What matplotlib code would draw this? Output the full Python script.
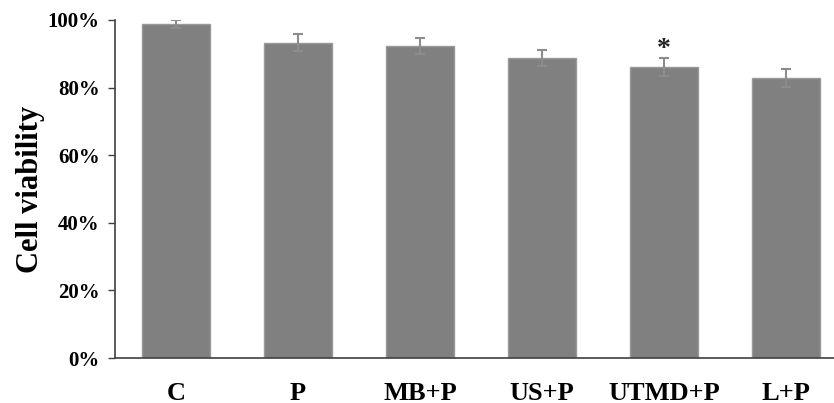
import matplotlib.pyplot as plt
from matplotlib.ticker import PercentFormatter
import numpy as np

# data
groups = ["C", "P", "MB+P", "US+P", "UTMD+P", "L+P"]
viability = [98.8, 93.3, 92.3, 88.8, 86.1, 82.8]
err = [1.2, 2.6, 2.5, 2.3, 2.7, 2.7]
star_groups = ["UTMD+P"]

plt.rcParams['font.family'] = ['Liberation Serif', 'DejaVu Serif']
plt.rcParams['font.weight'] = 'bold'

fig = plt.figure(figsize=(8.34, 4.03), dpi=100)
# axes box in pixels: left 115, bottom 358, top 20, right 847 (runs past the edge)
ax = fig.add_axes([115/834, 1 - 358/403, (847 - 115)/834, (358 - 20)/403])

x = np.arange(len(groups))
ax.bar(x, viability, width=0.55, color="#808080", edgecolor="#9a9a9a", linewidth=1, zorder=2)
ax.errorbar(x, viability, yerr=err, fmt="none", ecolor="#8c8c8c", elinewidth=1.5,
            capsize=3.6, capthick=1.5, zorder=3)

for g in star_groups:
    i = groups.index(g)
    ax.text(x[i], viability[i] + err[i] + 2.6, "*", ha="center", va="center",
            fontsize=20, fontweight="bold", color="#222222")

ax.set_xlim(-0.5, len(groups) - 0.5)
ax.set_ylim(0, 100)
ax.set_yticks(range(0, 101, 20))
ax.yaxis.set_major_formatter(PercentFormatter(decimals=0))
ax.set_xticks(x)
ax.set_xticklabels(groups, fontsize=19, fontweight="bold")
ax.tick_params(axis="x", length=0, pad=17)
ax.tick_params(axis="y", length=5, width=1, direction="out", color="#404040",
               labelsize=15, pad=6)
for lab in ax.get_yticklabels():
    lab.set_fontweight("bold")

ax.set_ylabel("Cell viability", fontsize=22, fontweight="bold", labelpad=2)

for side in ["top", "right"]:
    ax.spines[side].set_visible(False)
for side in ["left", "bottom"]:
    ax.spines[side].set_color("#404040")
    ax.spines[side].set_linewidth(1.2)

fig.savefig("out.png", dpi=100)
